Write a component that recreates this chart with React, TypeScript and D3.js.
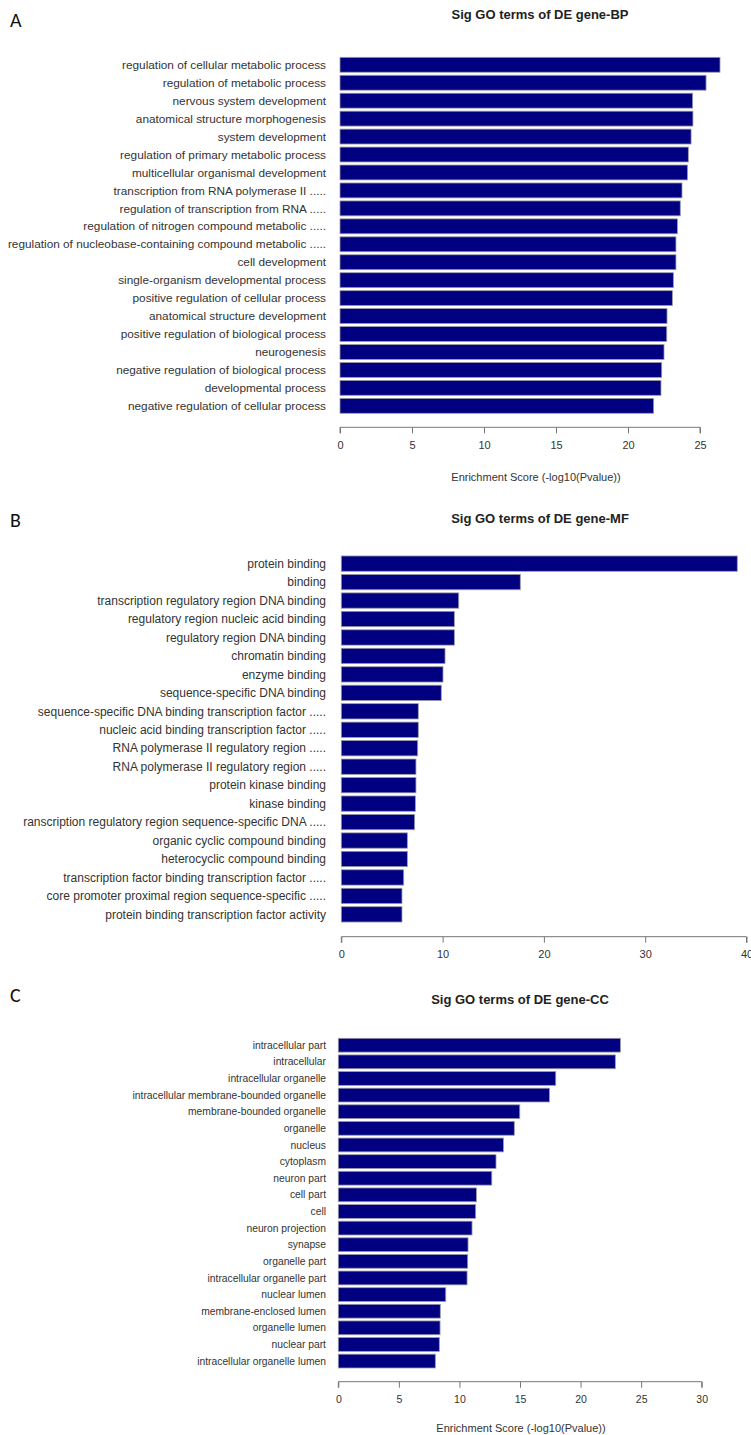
import React, { useEffect, useRef } from "react";
import * as d3 from "d3";

const bpTerms = [
  "regulation of cellular metabolic process",
  "regulation of metabolic process",
  "nervous system development",
  "anatomical structure morphogenesis",
  "system development",
  "regulation of primary metabolic process",
  "multicellular organismal development",
  "transcription from RNA polymerase II .....",
  "regulation of transcription from RNA .....",
  "regulation of nitrogen compound metabolic .....",
  "regulation of nucleobase-containing compound metabolic .....",
  "cell development",
  "single-organism developmental process",
  "positive regulation of cellular process",
  "anatomical structure development",
  "positive regulation of biological process",
  "neurogenesis",
  "negative regulation of biological process",
  "developmental process",
  "negative regulation of cellular process",
];
const bpScores = [26.39, 25.42, 24.49, 24.51, 24.38, 24.19, 24.13, 23.75, 23.63, 23.43, 23.33, 23.33, 23.15, 23.08, 22.71, 22.69, 22.5, 22.34, 22.29, 21.78];
const bpTicks = [0, 5, 10, 15, 20, 25];

const mfTerms = [
  "protein binding",
  "binding",
  "transcription regulatory region DNA binding",
  "regulatory region nucleic acid binding",
  "regulatory region DNA binding",
  "chromatin binding",
  "enzyme binding",
  "sequence-specific DNA binding",
  "sequence-specific DNA binding transcription factor .....",
  "nucleic acid binding transcription factor .....",
  "RNA polymerase II regulatory region .....",
  "RNA polymerase II regulatory region .....",
  "protein kinase binding",
  "kinase binding",
  "ranscription regulatory region sequence-specific DNA .....",
  "organic cyclic compound binding",
  "heterocyclic compound binding",
  "transcription factor binding transcription factor .....",
  "core promoter proximal region sequence-specific .....",
  "protein binding transcription factor activity",
];
const mfScores = [39.09, 17.67, 11.59, 11.16, 11.16, 10.24, 10.04, 9.87, 7.6, 7.6, 7.54, 7.37, 7.37, 7.31, 7.24, 6.52, 6.52, 6.16, 5.99, 5.99];
const mfTicks = [0, 10, 20, 30, 40];

const ccTerms = [
  "intracellular part",
  "intracellular",
  "intracellular organelle",
  "intracellular membrane-bounded organelle",
  "membrane-bounded organelle",
  "organelle",
  "nucleus",
  "cytoplasm",
  "neuron part",
  "cell part",
  "cell",
  "neuron projection",
  "synapse",
  "organelle part",
  "intracellular organelle part",
  "nuclear lumen",
  "membrane-enclosed lumen",
  "organelle lumen",
  "nuclear part",
  "intracellular organelle lumen",
];
const ccScores = [23.29, 22.87, 17.95, 17.43, 14.98, 14.53, 13.63, 13.02, 12.67, 11.4, 11.34, 11.04, 10.71, 10.68, 10.63, 8.87, 8.42, 8.4, 8.34, 8.01];
const ccTicks = [0, 5, 10, 15, 20, 25, 30];

const panelLetters = ["A", "B", "C"];
const panelTitles = ["Sig GO terms of DE gene-BP", "Sig GO terms of DE gene-MF", "Sig GO terms of DE gene-CC"];
const axisTitle = "Enrichment Score (-log10(Pvalue))";

const FONT = "Arial, 'Liberation Sans', Helvetica, sans-serif";

type Panel = {
  letter: string;
  title: string;
  terms: string[];
  scores: number[];
  ticks: number[];
  xRange: [number, number];
  yRange: [number, number];
  axisY: number;
  labelSize: number;
  tickSize: number;
  titleX: number;
  titleY: number;
  letterY: number;
  axisTitleX: number | null;
  axisTitleY: number;
};

const panels: Panel[] = [
  {
    letter: panelLetters[0], title: panelTitles[0], terms: bpTerms, scores: bpScores, ticks: bpTicks,
    xRange: [340, 700], yRange: [55.8, 414.8], axisY: 427.3, labelSize: 11.8, tickSize: 11,
    titleX: 540, titleY: 19, letterY: 27, axisTitleX: 536, axisTitleY: 481,
  },
  {
    letter: panelLetters[1], title: panelTitles[1], terms: mfTerms, scores: mfScores, ticks: mfTicks,
    xRange: [341.3, 746.5], yRange: [554.4, 923.6], axisY: 936.7, labelSize: 12, tickSize: 11,
    titleX: 540, titleY: 523, letterY: 527, axisTitleX: null, axisTitleY: 0,
  },
  {
    letter: panelLetters[2], title: panelTitles[2], terms: ccTerms, scores: ccScores, ticks: ccTicks,
    xRange: [338.3, 701.7], yRange: [1036.9, 1369.4], axisY: 1381.7, labelSize: 10.3, tickSize: 10.5,
    titleX: 520, titleY: 1004, letterY: 1002, axisTitleX: 521, axisTitleY: 1432,
  },
];

export default function App() {
  const ref = useRef<SVGSVGElement | null>(null);

  useEffect(() => {
    const svg = d3.select(ref.current);
    svg.selectAll("*").remove();
    svg.append("rect").attr("width", 751).attr("height", 1435).attr("fill", "#fff");

    panels.forEach((p) => {
      const maxTick = p.ticks[p.ticks.length - 1];
      const x = d3.scaleLinear().domain([0, maxTick]).range(p.xRange);
      const y = d3.scaleBand<number>()
        .domain(d3.range(p.terms.length))
        .range(p.yRange)
        .paddingInner(0.17)
        .paddingOuter(0.085);

      const g = svg.append("g");

      g.append("text")
        .attr("x", 10)
        .attr("y", p.letterY)
        .attr("font-family", "Calibri, Carlito, 'Open Sans', Arial, sans-serif")
        .attr("font-size", 20)
        .attr("fill", "#111")
        .text(p.letter);

      g.append("text")
        .attr("x", p.titleX)
        .attr("y", p.titleY)
        .attr("text-anchor", "middle")
        .attr("font-family", FONT)
        .attr("font-weight", "bold")
        .attr("font-size", 13)
        .attr("fill", "#222")
        .text(p.title);

      g.selectAll("rect.bar")
        .data(p.scores)
        .enter()
        .append("rect")
        .attr("class", "bar")
        .attr("x", x(0))
        .attr("y", (_, i) => y(i)!)
        .attr("width", (d) => x(d) - x(0))
        .attr("height", y.bandwidth())
        .attr("fill", "#000080")
        .attr("stroke", "#9a9aa8")
        .attr("stroke-width", 0.8);

      g.selectAll("text.term")
        .data(p.terms)
        .enter()
        .append("text")
        .attr("class", "term")
        .attr("x", 326)
        .attr("y", (_, i) => y(i)! + y.bandwidth() / 2)
        .attr("dy", "0.35em")
        .attr("text-anchor", "end")
        .attr("font-family", FONT)
        .attr("font-size", p.labelSize)
        .attr("fill", "#333")
        .text((d) => d);

      const axis = d3.axisBottom(x).tickValues(p.ticks).tickSize(6).tickPadding(8).tickFormat(d3.format("d"));
      const ag = g.append("g").attr("transform", `translate(0,${p.axisY})`).call(axis);
      ag.select(".domain").attr("stroke", "#777").attr("d", `M${x(0)},6V0H${x(maxTick)}V6`);
      ag.selectAll(".tick line").attr("stroke", "#777");
      ag.selectAll(".tick text")
        .attr("font-family", FONT)
        .attr("font-size", p.tickSize)
        .attr("fill", "#333");

      if (p.axisTitleX !== null) {
        g.append("text")
          .attr("x", p.axisTitleX)
          .attr("y", p.axisTitleY)
          .attr("text-anchor", "middle")
          .attr("font-family", FONT)
          .attr("font-size", 11)
          .attr("fill", "#333")
          .text(axisTitle);
      }
    });
  }, []);

  return (
    <svg
      ref={ref}
      width={751}
      height={1435}
      style={{ position: "absolute", left: 0, top: 0, display: "block" }}
    />
  );
}
